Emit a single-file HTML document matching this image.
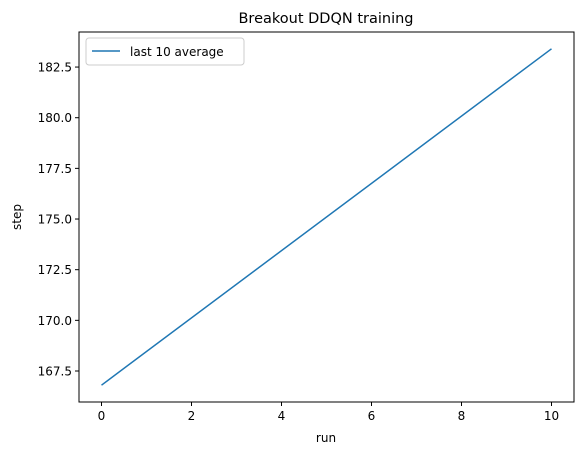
<!DOCTYPE html>
<html><head><meta charset="utf-8"><style>
body{margin:0;background:#fff}
svg text{font-family:"DejaVu Sans","Liberation Sans",sans-serif;fill:#000}
</style></head><body>
<svg id="chart" width="584" height="455" xmlns="http://www.w3.org/2000/svg">
<rect width="584" height="455" fill="#fff"/>
<text x="326" y="23" font-size="14.5" text-anchor="middle">Breakout DDQN training</text>
<g id="plot"></g>
<rect x="79" y="32" width="495" height="370" fill="none" stroke="#000" stroke-width="1"/>
<text x="326" y="442" font-size="12" text-anchor="middle">run</text>
<text transform="translate(21,217) rotate(-90)" font-size="12" text-anchor="middle">step</text>
<g>
<rect x="86" y="38" width="158" height="27" rx="3" fill="#fff" stroke="#ccc"/>
<line x1="92" y1="51" x2="120" y2="51" stroke="#1f77b4" stroke-width="1.5"/>
<text x="130" y="56" font-size="12">last 10 average</text>
</g>
</svg>
<script>
const runs=[0,10];
const steps=[166.8,183.4];
const xTicks=[0,2,4,6,8,10];
const yTicks=[167.5,170.0,172.5,175.0,177.5,180.0,182.5];
const L=79,R=574,T=32,B=402;
const xMin=-0.5,xMax=10.5,yMin=165.97,yMax=184.23;
const xs=v=>L+(v-xMin)/(xMax-xMin)*(R-L);
const ys=v=>B-(v-yMin)/(yMax-yMin)*(B-T);
const ns="http://www.w3.org/2000/svg";
const g=document.getElementById('plot');
function mk(t,a){const e=document.createElementNS(ns,t);for(const k in a)e.setAttribute(k,a[k]);g.appendChild(e);return e;}
xTicks.forEach(v=>{
 const l=mk('line',{x1:xs(v),x2:xs(v),y1:B,y2:B+4,stroke:'#000'});
 
 
 const t=mk('text',{x:xs(v),y:B+18,'font-size':12,'text-anchor':'middle'});t.textContent=v;
 
 
});
yTicks.forEach(v=>{
 const l=mk('line',{x1:L-4,x2:L,y1:ys(v),y2:ys(v),stroke:'#000'});
 
 
 const t=mk('text',{x:L-7,y:ys(v)+4.5,'font-size':12,'text-anchor':'end'});t.textContent=v.toFixed(1);
 
 
});
const p=mk('polyline',{points:runs.map((r,i)=>xs(r)+','+ys(steps[i])).join(' '),fill:'none',stroke:'#1f77b4','stroke-width':1.5});


</script>
</body></html>
